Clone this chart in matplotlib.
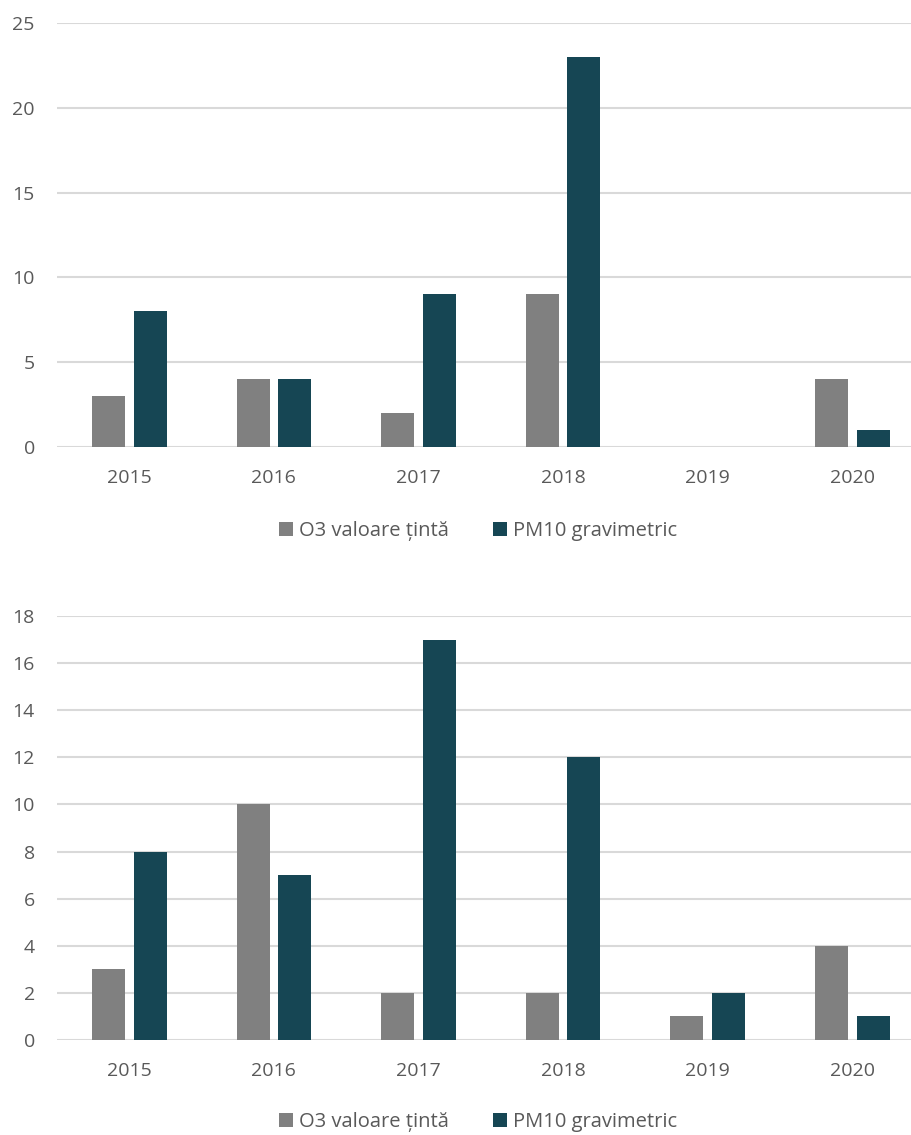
import matplotlib
matplotlib.use("Agg")
import matplotlib.pyplot as plt
import numpy as np

years = ["2015", "2016", "2017", "2018", "2019", "2020"]
series_names = ["O3 valoare țintă", "PM10 gravimetric"]

top_o3 = [3, 4, 2, 9, 0, 4]
top_pm10 = [8, 4, 9, 23, 0, 1]
bottom_o3 = [3, 10, 2, 2, 1, 4]
bottom_pm10 = [8, 7, 17, 12, 2, 1]

colors = ["#808080", "#164654"]
text_color = "#595959"
grid_color = "#d9d9d9"

plt.rcParams['font.family'] = ['Open Sans', 'DejaVu Sans']

W, H = 912, 1135
fig = plt.figure(figsize=(W / 100, H / 100), dpi=100)


def draw(ax, o3, pm10, ymax, step, legend_y):
    x = np.arange(len(years))
    bw = 0.228
    gap = 0.06
    b1 = ax.bar(x - (bw + gap) / 2, o3, bw, color=colors[0], label=series_names[0], zorder=3)
    b2 = ax.bar(x + (bw + gap) / 2, pm10, bw, color=colors[1], label=series_names[1], zorder=3)
    ax.set_xlim(-0.5, len(years) - 0.5)
    ax.set_ylim(0, ymax)
    ax.set_yticks(np.arange(0, ymax + 0.1, step))
    ax.set_xticks(x)
    ax.set_xticklabels(years)
    ax.yaxis.grid(True, color=grid_color, linewidth=1.5, zorder=0)
    for s in ax.spines.values():
        s.set_visible(False)
    ax.tick_params(length=0, colors=text_color, labelsize=14)
    ax.tick_params(axis='x', pad=16)
    ax.tick_params(axis='y', pad=16)
    leg = fig.legend(handles=[b1, b2], labels=series_names, loc='center', ncol=2,
                     bbox_to_anchor=(478 / W, legend_y), frameon=False,
                     fontsize=14.5, handlelength=0.7, handleheight=0.7,
                     handletextpad=0.3, columnspacing=2.2)
    for t in leg.get_texts():
        t.set_color(text_color)


ax_w = 867.6 / W
ax_h = 424 / H
ax1 = fig.add_axes([57 / W, 1 - 447 / H, ax_w, ax_h])
draw(ax1, top_o3, top_pm10, 25, 5, 1 - 531 / H)
ax2 = fig.add_axes([57 / W, 1 - 1040 / H, ax_w, ax_h])
draw(ax2, bottom_o3, bottom_pm10, 18, 2, 1 - 1122 / H)

fig.savefig("out.png", dpi=100)
